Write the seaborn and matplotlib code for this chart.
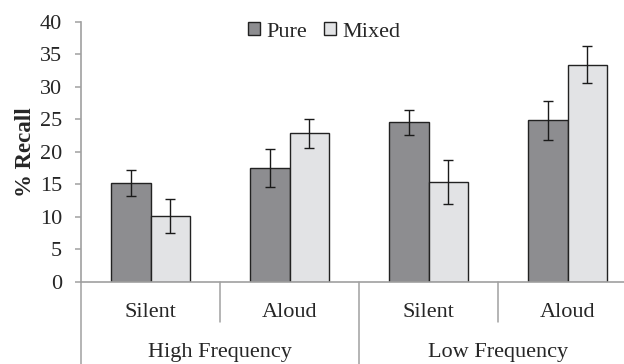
import matplotlib
matplotlib.use("Agg")
import matplotlib.pyplot as plt
import matplotlib.transforms as mtransforms
import seaborn as sns
import pandas as pd

# Data
conditions = ["HF Silent", "HF Aloud", "LF Silent", "LF Aloud"]
reading = ["Silent", "Aloud", "Silent", "Aloud"]
frequency = ["High Frequency", "Low Frequency"]
lists = ["Pure", "Mixed"]
pure_means = [15.2, 17.5, 24.5, 24.8]
mixed_means = [10.1, 22.8, 15.4, 33.4]
pure_err = [2.0, 2.9, 1.95, 2.95]
mixed_err = [2.6, 2.3, 3.4, 2.8]

df = pd.DataFrame(
    {
        "condition": conditions * 2,
        "list": ["Pure"] * 4 + ["Mixed"] * 4,
        "recall": pure_means + mixed_means,
        "err": pure_err + mixed_err,
    }
)

sns.set_style("white")
plt.rcParams["font.family"] = ["Liberation Serif", "DejaVu Serif"]
FS = 16

fig = plt.figure(figsize=(6.24, 3.64), dpi=100)
ax = fig.add_axes([81 / 624, 82.3 / 364, 556 / 624, 260 / 364])

palette = {"Pure": "#8c8d91", "Mixed": "#e2e3e5"}
sns.barplot(
    data=df,
    x="condition",
    y="recall",
    hue="list",
    order=conditions,
    hue_order=lists,
    palette=palette,
    errorbar=None,
    width=0.57,
    edgecolor="#222222",
    linewidth=1.0,
    ax=ax,
)

# error bars on each bar
for container, lst in zip(ax.containers, lists):
    sub = df[df["list"] == lst].set_index("condition").loc[conditions]
    xs = [p.get_x() + p.get_width() / 2 for p in container.patches]
    ax.errorbar(
        xs,
        sub["recall"].values,
        yerr=sub["err"].values,
        fmt="none",
        ecolor="#1a1a1a",
        elinewidth=1.0,
        capsize=3.5,
        capthick=1.0,
    )

ax.set_ylim(0, 40)
ax.set_xlim(-0.5, 3.5)
ax.set_yticks(range(0, 41, 5))
ax.set_ylabel("% Recall", fontsize=FS + 0.5, fontweight="bold", labelpad=3)
ax.set_xlabel("")
ax.set_xticks(range(4))
ax.set_xticklabels(reading, fontsize=FS)
ax.tick_params(axis="x", length=0, pad=15.5)
ax.tick_params(axis="y", labelsize=FS, length=4.5, width=1.1, color="#a0a0a0",
               direction="out", left=True, pad=9)

for side in ["top", "right"]:
    ax.spines[side].set_visible(False)
for side in ["left", "bottom"]:
    ax.spines[side].set_color("#a0a0a0")
    ax.spines[side].set_linewidth(1.2)

# hierarchical category axis
trans = mtransforms.blended_transform_factory(ax.transData, ax.transAxes)
for xb in [0.5, 2.5]:
    ax.plot([xb, xb], [0, -0.155], transform=trans, color="#a0a0a0",
            lw=1.1, clip_on=False)
for xb in [-0.5, 1.5, 3.5]:
    ax.plot([xb, xb], [0, -0.33], transform=trans, color="#a0a0a0",
            lw=1.1, clip_on=False)
for i, name in enumerate(frequency):
    ax.text(2 * i + 0.5, -0.29, name, transform=trans, ha="center",
            va="baseline", fontsize=FS)

leg = ax.legend(
    loc="upper center",
    bbox_to_anchor=(0.437, 1.05),
    ncol=2,
    frameon=False,
    fontsize=FS,
    handlelength=0.55,
    handleheight=0.55,
    handletextpad=0.27,
    columnspacing=0.75,
    borderaxespad=0.2,
)

fig.savefig("out.png", dpi=100)
